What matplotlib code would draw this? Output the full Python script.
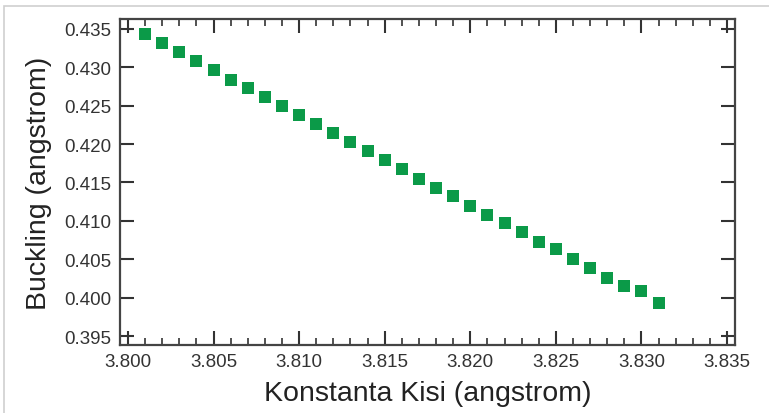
import numpy as np
import matplotlib
matplotlib.use('Agg')
import matplotlib.pyplot as plt
from matplotlib.patches import Rectangle
from matplotlib.ticker import MultipleLocator, FormatStrFormatter

plt.rcParams['font.family'] = ['Liberation Sans', 'DejaVu Sans']

# lattice constant (angstrom) vs buckling height (angstrom)
lattice = [3.801, 3.802, 3.803, 3.804, 3.805, 3.806, 3.807, 3.808, 3.809, 3.810,
           3.811, 3.812, 3.813, 3.814, 3.815, 3.816, 3.817, 3.818, 3.819, 3.820,
           3.821, 3.822, 3.823, 3.824, 3.825, 3.826, 3.827, 3.828, 3.829, 3.830,
           3.831]
buckling = [0.4343, 0.4332, 0.4320, 0.4308, 0.4297, 0.4284, 0.4273, 0.4261, 0.4250, 0.4238,
            0.4226, 0.4214, 0.4203, 0.4191, 0.4179, 0.4168, 0.4155, 0.4143, 0.4132, 0.4120,
            0.4108, 0.4097, 0.4085, 0.4073, 0.4063, 0.4050, 0.4038, 0.4026, 0.4015, 0.4008,
            0.3993]

W, H = 769, 414
fig = plt.figure(figsize=(W / 100, H / 100), dpi=100)

# thin grey frame round the picture
fig.patches.append(Rectangle((4 / W, -0.1), 1.2, (H - 7) / H + 0.1,
                             transform=fig.transFigure, fill=False,
                             edgecolor='#cfcfcf', linewidth=1.2))

ax = fig.add_axes([120 / W, (H - 346) / H, (735 - 120) / W, (346 - 20) / H])

ax.plot(lattice, buckling, linestyle='none', marker='s', markersize=9,
        color='#0b9a48', markeredgewidth=0)

ax.set_xlim(3.79953, 3.83547)
ax.set_ylim(0.39383, 0.43630)

ax.xaxis.set_major_locator(MultipleLocator(0.005))
ax.xaxis.set_minor_locator(MultipleLocator(0.001))
ax.yaxis.set_major_locator(MultipleLocator(0.005))
ax.xaxis.set_major_formatter(FormatStrFormatter('%.3f'))
ax.yaxis.set_major_formatter(FormatStrFormatter('%.3f'))

txt = '#333333'
ax.tick_params(which='both', direction='in', top=True, right=True,
               color='#333333', labelcolor=txt, labelsize=13.5)
ax.tick_params(which='major', length=10, width=1.5, pad=6)
ax.tick_params(which='minor', length=5, width=1.2)

for s in ax.spines.values():
    s.set_color('#444444')
    s.set_linewidth(1.6)

ax.set_xlabel('Konstanta Kisi (angstrom)', fontsize=20.5, color='#222222', labelpad=7)
ax.set_ylabel('Buckling (angstrom)', fontsize=20.5, color='#222222', labelpad=9)

fig.savefig('out.png', dpi=100)
